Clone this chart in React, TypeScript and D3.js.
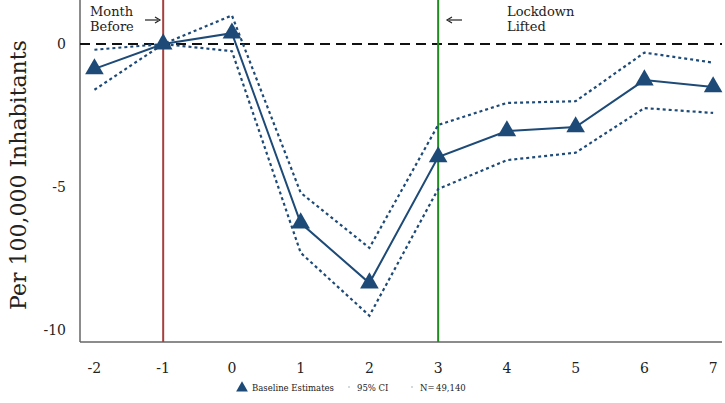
import React from "react";
import * as d3 from "d3";

const months = [-2, -1, 0, 1, 2, 3, 4, 5, 6, 7];
const estimates = [-0.87, 0, 0.38, -6.26, -8.36, -3.95, -3.04, -2.9, -1.26, -1.5];
const upperCI = [-0.2, 0, 1.0, -5.2, -7.13, -2.83, -2.06, -2.0, -0.3, -0.65];
const lowerCI = [-1.6, 0, -0.25, -7.3, -9.5, -5.07, -4.06, -3.8, -2.24, -2.41];
const yTicks = [0, -5, -10];
const eventMonths = [-1, 3];

const W = 725;
const H = 403;
const font = "'DejaVu Serif', Georgia, serif";
const navy = "#1d4a77";

export default function App() {
  const left = 80, right = 722, top = 0, bottom = 342;
  const x = d3.scaleLinear().domain([-2.21, 7.1]).range([left, right - 2]);
  const y = d3.scaleLinear().domain([-10.42, 1.54]).range([bottom, top]);
  const line = d3.line<number>().x((_, i) => x(months[i])).y((d) => y(d));
  const tri = d3.symbol().type(d3.symbolTriangle).size(150)();
  const legTri = d3.symbol().type(d3.symbolTriangle).size(60)();

  return (
    <svg width={W} height={H} style={{ position: "absolute", left: 0, top: 0, background: "#fff" }} fontFamily={font}>
      {/* axes */}
      <line x1={left} x2={left} y1={top} y2={bottom} stroke="#666" strokeWidth={1.5} />
      <line x1={left} x2={right} y1={bottom} y2={bottom} stroke="#666" strokeWidth={1.5} />
      {/* zero line */}
      <line x1={left} x2={right} y1={y(0)} y2={y(0)} stroke="#111" strokeWidth={2} strokeDasharray="10,6" />
      {/* event lines */}
      <line x1={x(eventMonths[0])} x2={x(eventMonths[0])} y1={top} y2={bottom} stroke="#a4403d" strokeWidth={2} />
      <line x1={x(eventMonths[1])} x2={x(eventMonths[1])} y1={top} y2={bottom} stroke="#1f8c1f" strokeWidth={2} />
      {/* CIs */}
      <path d={line(upperCI) || ""} fill="none" stroke={navy} strokeWidth={2.2} strokeDasharray="3,3" />
      <path d={line(lowerCI) || ""} fill="none" stroke={navy} strokeWidth={2.2} strokeDasharray="3,3" />
      {/* estimates */}
      <path d={line(estimates) || ""} fill="none" stroke={navy} strokeWidth={2} />
      {estimates.map((v, i) => (
        <path key={i} d={tri || ""} transform={`translate(${x(months[i])},${y(v)})`} fill={navy} />
      ))}
      {/* y ticks */}
      {yTicks.map((t) => (
        <text key={t} x={66} y={y(t)} dy="0.35em" textAnchor="end" fontSize={14} fill="#222">
          {t}
        </text>
      ))}
      {/* x ticks */}
      {months.map((m) => (
        <text key={m} x={x(m)} y={368} dy="0.35em" textAnchor="middle" fontSize={14} fill="#222">
          {m}
        </text>
      ))}
      {/* y label */}
      <text transform={`translate(26,${175}) rotate(-90)`} textAnchor="middle" fontSize={22} fill="#222">
        Per 100,000 Inhabitants
      </text>
      {/* annotations */}
      <text x={90} y={16} fontSize={13} fill="#222">Month</text>
      <text x={90} y={31} fontSize={13} fill="#222">Before</text>
      <line x1={145} x2={158} y1={20} y2={20} stroke="#222" strokeWidth={1.2} />
      <path d="M155,17 L160,20 L155,23" fill="none" stroke="#222" strokeWidth={1.2} />
      <line x1={449} x2={462} y1={20} y2={20} stroke="#222" strokeWidth={1.2} />
      <path d="M452,17 L447,20 L452,23" fill="none" stroke="#222" strokeWidth={1.2} />
      <text x={507} y={16} fontSize={13} fill="#222">Lockdown</text>
      <text x={507} y={31} fontSize={13} fill="#222">Lifted</text>
      {/* legend */}
      <path d={legTri || ""} transform="translate(242,388)" fill={navy} />
      <text x={252} y={391} fontSize={8.5} fill="#222">Baseline Estimates</text>
      <circle cx={349} cy={387} r={0.8} fill="#9ab" />
      <text x={357} y={391} fontSize={8.5} fill="#222">95% CI</text>
      <circle cx={412} cy={387} r={0.8} fill="#9ab" />
      <text x={420} y={391} fontSize={8.5} fill="#222">N=</text>
      <text x={436} y={391} fontSize={8.5} fill="#222">49,140</text>
    </svg>
  );
}
